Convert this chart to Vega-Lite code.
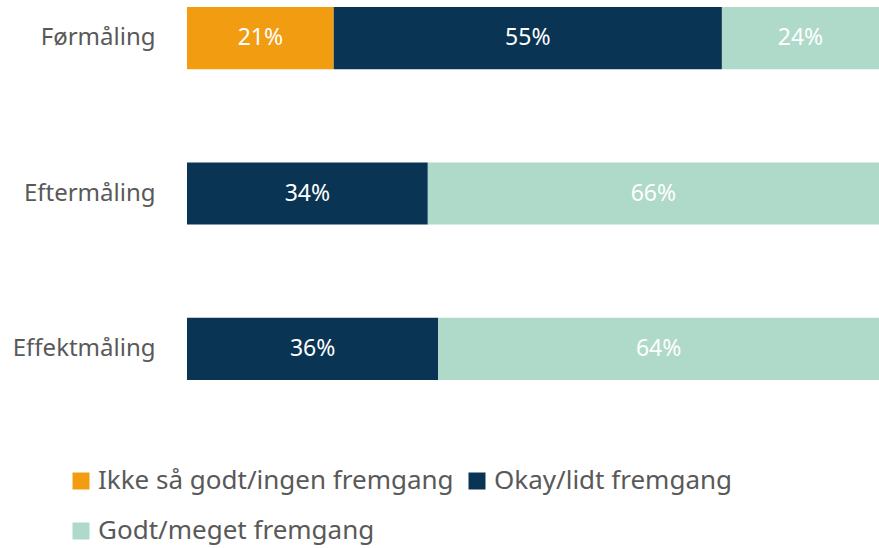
{
  "$schema": "https://vega.github.io/schema/vega-lite/v6.json",
  "width": 692,
  "height": 387,
  "autosize": {"type": "none"},
  "padding": {"left": 187, "top": 0, "right": 0, "bottom": 161},
  "background": "white",
  "config": {
    "view": {"stroke": null},
    "font": "Noto Sans"
  },
  "data": {
    "values": [
      {"maaling": "Førmåling", "kategori": "Ikke så godt/ingen fremgang", "ord": 1, "andel": 21.2, "label": "21%"},
      {"maaling": "Førmåling", "kategori": "Okay/lidt fremgang", "ord": 2, "andel": 56.1, "label": "55%"},
      {"maaling": "Førmåling", "kategori": "Godt/meget fremgang", "ord": 3, "andel": 22.7, "label": "24%"},
      {"maaling": "Eftermåling", "kategori": "Okay/lidt fremgang", "ord": 2, "andel": 34.8, "label": "34%"},
      {"maaling": "Eftermåling", "kategori": "Godt/meget fremgang", "ord": 3, "andel": 65.2, "label": "66%"},
      {"maaling": "Effektmåling", "kategori": "Okay/lidt fremgang", "ord": 2, "andel": 36.3, "label": "36%"},
      {"maaling": "Effektmåling", "kategori": "Godt/meget fremgang", "ord": 3, "andel": 63.7, "label": "64%"}
    ]
  },
  "encoding": {
    "y": {
      "field": "maaling",
      "type": "nominal",
      "sort": ["Førmåling", "Eftermåling", "Effektmåling"],
      "scale": {"paddingInner": 0.6, "paddingOuter": 0.045},
      "axis": {
        "title": null,
        "domain": false,
        "ticks": false,
        "labelPadding": 32,
        "labelFontSize": 24,
        "labelColor": "#595959",
        "labelFont": "Noto Sans"
      }
    },
    "x": {
      "field": "andel",
      "type": "quantitative",
      "stack": "zero",
      "scale": {"domain": [0, 100], "nice": false},
      "axis": null
    }
  },
  "layer": [
    {
      "mark": {"type": "bar"},
      "encoding": {
        "color": {
          "field": "kategori",
          "type": "nominal",
          "scale": {
            "domain": ["Ikke så godt/ingen fremgang", "Okay/lidt fremgang", "Godt/meget fremgang"],
            "range": ["#F29C11", "#0A3453", "#AFD9C8"]
          },
          "legend": {
            "title": null,
            "orient": "none",
            "legendX": -119,
            "legendY": 468,
            "direction": "horizontal",
            "columns": 2,
            "columnPadding": 10,
            "rowPadding": 24,
            "symbolType": "square",
            "symbolSize": 289,
            "symbolStrokeWidth": 0,
            "labelFontSize": 26,
            "labelColor": "#595959",
            "labelFont": "Noto Sans",
            "labelOffset": 4,
            "labelLimit": 0
          }
        },
        "order": {"field": "ord", "type": "quantitative"}
      }
    },
    {
      "mark": {"type": "text", "color": "white", "fontSize": 23, "font": "Noto Sans"},
      "encoding": {
        "x": {"field": "andel", "type": "quantitative", "stack": "zero", "bandPosition": 0.5},
        "text": {"field": "label"},
        "detail": {"field": "kategori"},
        "order": {"field": "ord", "type": "quantitative"}
      }
    }
  ]
}
